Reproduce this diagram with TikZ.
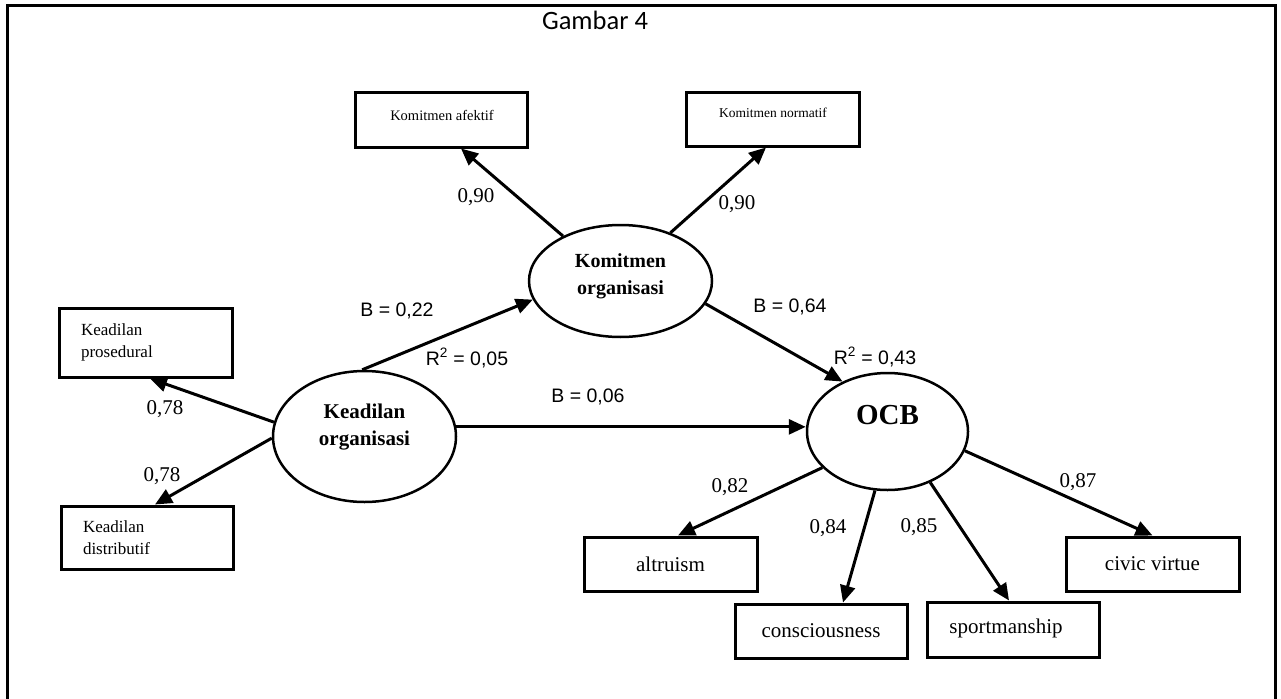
\documentclass[tikz,border=0pt]{standalone}
\usepackage{fontspec}
\setmainfont{Liberation Serif}
\newfontfamily\arialf{Liberation Sans}
\newfontfamily\calf{Carlito}
\usetikzlibrary{arrows.meta,shapes.geometric}
\begin{document}
\begin{tikzpicture}[x=1pt,y=-1pt,
  box/.style={draw, line width=3pt, rectangle, inner sep=0pt},
  latent/.style={draw, ellipse, line width=2.5pt, inner sep=0pt},
  lat/.style={font=\bfseries\fontsize{21}{27}\selectfont, align=center, inner sep=0pt},
  arr/.style={line width=3pt, -{Triangle[length=17pt,width=15pt]}},
  coef/.style={font=\fontsize{21}{24}\selectfont, inner sep=0pt},
  stat/.style={font=\arialf\fontsize{19.5}{22}\selectfont, inner sep=0pt},
  ind/.style={font=\fontsize{21}{24}\selectfont},
]
\useasboundingbox (0,0) rectangle (1281,698);
\draw[line width=3pt] (7,720) -- (7,6) -- (1275,6) -- (1275,720);
\node[font=\calf\fontsize{26.5}{28}\selectfont, anchor=base, inner sep=0pt] (title) at (595,30) {Gambar 4};

% indicator boxes
\node[box, minimum width=173pt, minimum height=69pt, text width=129pt, inner xsep=22pt, align=left, font=\fontsize{17}{22}\selectfont] (kp) at (145.5,342.5) {Keadilan\\prosedural};
\node[box, minimum width=172pt, minimum height=63pt, text width=128pt, inner xsep=22pt, align=left, font=\fontsize{17}{22}\selectfont] (kd) at (147,537.5) {Keadilan\\distributif};
\node[box, minimum width=172pt, minimum height=54pt] (ka) at (441,120) {};
\node[font=\fontsize{14.5}{17}\selectfont, inner sep=0pt] (ka-t) at (442,115) {Komitmen afektif};
\node[box, minimum width=173pt, minimum height=53pt] (kn) at (772.5,119.5) {};
\node[font=\fontsize{13.5}{16}\selectfont, inner sep=0pt] (kn-t) at (773,113) {Komitmen normatif};
\node[box, ind, minimum width=173pt, minimum height=54pt] (alt) at (670.5,564) {altruism};
\node[box, ind, minimum width=172pt, minimum height=54pt] (con) at (821,631) {consciousness};
\node[box, minimum width=172pt, minimum height=55pt] (spo) at (1013,629.5) {};
\node[ind, inner sep=0pt] (spo-t) at (1006,628) {sportmanship};
\node[box, ind, minimum width=173pt, minimum height=54pt] (civ) at (1152.5,564) {civic virtue};

% latent variables
\node[latent, minimum width=183pt, minimum height=131pt] (ko) at (364.5,436.5) {};
\node[lat] (ko-t) at (364.5,427) {Keadilan\\organisasi};
\node[latent, minimum width=183pt, minimum height=112pt] (kom) at (620.5,281) {};
\node[lat, font=\bfseries\fontsize{20}{27}\selectfont] (kom-t) at (620.5,276.5) {Komitmen\\organisasi};
\node[latent, minimum width=161pt, minimum height=117pt] (ocb) at (887.5,431.5) {};
\node[lat, font=\bfseries\fontsize{29}{32}\selectfont] (ocb-t) at (887.5,415) {OCB};

% connectors
\draw[arr] (ko.171) -- ([xshift=4.5pt]kp.south);
\draw[arr] (ko.181.5) -- ([xshift=8pt]kd.north);
\draw[arr] (ko.92) -- (kom.192.7);
\draw[arr] (kom.142) -- ([xshift=20pt]ka.south);
\draw[arr] (kom.44.7) -- ([xshift=-6.5pt]kn.south);
\draw[arr] (kom.345.4) -- (ocb.132.4);
\draw[arr] (ko.6) -- (ko.6 -| ocb.west);
\draw[arr] (ocb.209) -- ([xshift=7.5pt]alt.north);
\draw[arr] (ocb.258) -- ([xshift=22pt]con.north);
\draw[arr] (ocb.310) -- ([xshift=-4pt]spo.north);
\draw[arr] (ocb.346) -- (civ.north);

% labels
\node[coef] (l1) at (165,409) {0,78};
\node[coef] (l2) at (162,476) {0,78};
\node[coef] (l3) at (476,197) {0,90};
\node[coef] (l4) at (737,204) {0,90};
\node[stat] (s1) at (397,311) {B = 0,22};
\node[stat] (s2) at (467,358) {R\textsuperscript{2} = 0,05};
\node[stat] (s3) at (588,397) {B = 0,06};
\node[stat] (s4) at (790,307) {B = 0,64};
\node[stat] (s5) at (875,357) {R\textsuperscript{2} = 0,43};
\node[coef] (l5) at (730,487) {0,82};
\node[coef] (l6) at (828,528) {0,84};
\node[coef] (l7) at (919,527) {0,85};
\node[coef] (l8) at (1078,482) {0,87};
\end{tikzpicture}
\end{document}
